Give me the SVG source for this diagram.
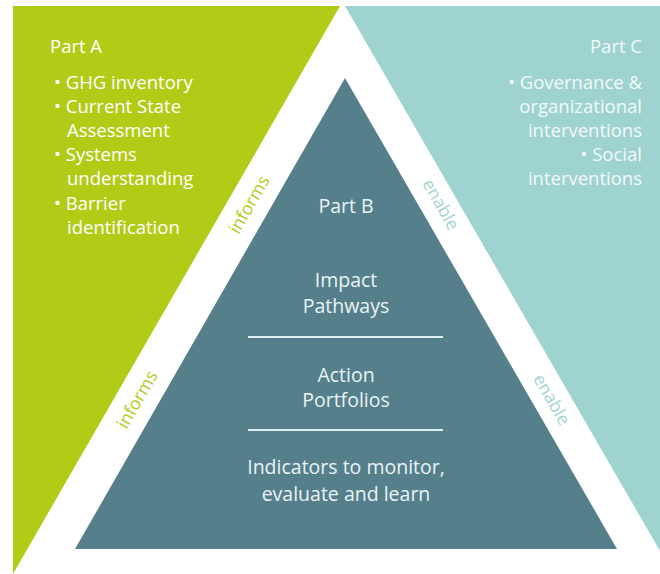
<svg xmlns="http://www.w3.org/2000/svg" width="660" height="574" viewBox="0 0 660 574">
  <style>
    .t { font-family: "Open Sans", "Liberation Sans", sans-serif; font-size: 18.5px; }
    .a { fill: #ffffff; }
    .c { fill: #f2faf9; text-anchor: end; }
    .b { fill: #e8f4f5; text-anchor: middle; font-size: 19.5px; }
    .inf { font-family: "Open Sans", "Liberation Sans", sans-serif; font-size: 17.5px; fill: #b2cb17; text-anchor: middle; }
    .en { font-family: "Open Sans", "Liberation Sans", sans-serif; font-size: 17.5px; fill: #a3d4d0; text-anchor: middle; }
    .sep { stroke: #dceff2; stroke-width: 2; }
  </style>
  <rect x="0" y="0" width="660" height="574" fill="#ffffff"/>
  <g id="part-a">
    <polygon points="13,6 340,6 13,574" fill="#b2cb17"/>
    <text class="t a" x="50" y="53">Part A</text>
    <text class="t a" x="54" y="89">• GHG inventory</text>
    <text class="t a" x="54" y="113">• Current State</text>
    <text class="t a" x="67" y="137">Assessment</text>
    <text class="t a" x="54" y="161">• Systems</text>
    <text class="t a" x="67" y="185">understanding</text>
    <text class="t a" x="54" y="210">• Barrier</text>
    <text class="t a" x="67" y="234">identification</text>
  </g>
  <g id="part-c">
    <polygon points="345,6 660,6 660,551" fill="#9fd3cf"/>
    <text class="t c" x="642" y="53">Part C</text>
    <text class="t c" x="642" y="89">• Governance &amp;</text>
    <text class="t c" x="642" y="113">organizational</text>
    <text class="t c" x="642" y="137">interventions</text>
    <text class="t c" x="642" y="161">• Social</text>
    <text class="t c" x="642" y="185">interventions</text>
  </g>
  <g id="part-b">
    <polygon points="345,78 617,549 75,549" fill="#567f8c"/>
    <text class="t b" x="346" y="213">Part B</text>
    <text class="t b" x="346" y="287">Impact</text>
    <text class="t b" x="346" y="313">Pathways</text>
    <line class="sep" x1="248" y1="337" x2="443" y2="337"/>
    <text class="t b" x="346" y="382">Action</text>
    <text class="t b" x="346" y="407">Portfolios</text>
    <line class="sep" x1="248" y1="430" x2="443" y2="430"/>
    <text class="t b" x="346" y="474">Indicators to monitor,</text>
    <text class="t b" x="346" y="501">evaluate and learn</text>
  </g>
  <g id="connectors">
    <text class="inf" transform="translate(250,205) rotate(-60)" y="5">informs</text>
    <text class="inf" transform="translate(138,400) rotate(-60)" y="5">informs</text>
    <text class="en" transform="translate(440,205) rotate(60)" y="5">enable</text>
    <text class="en" transform="translate(551,400) rotate(60)" y="5">enable</text>
  </g>
</svg>
